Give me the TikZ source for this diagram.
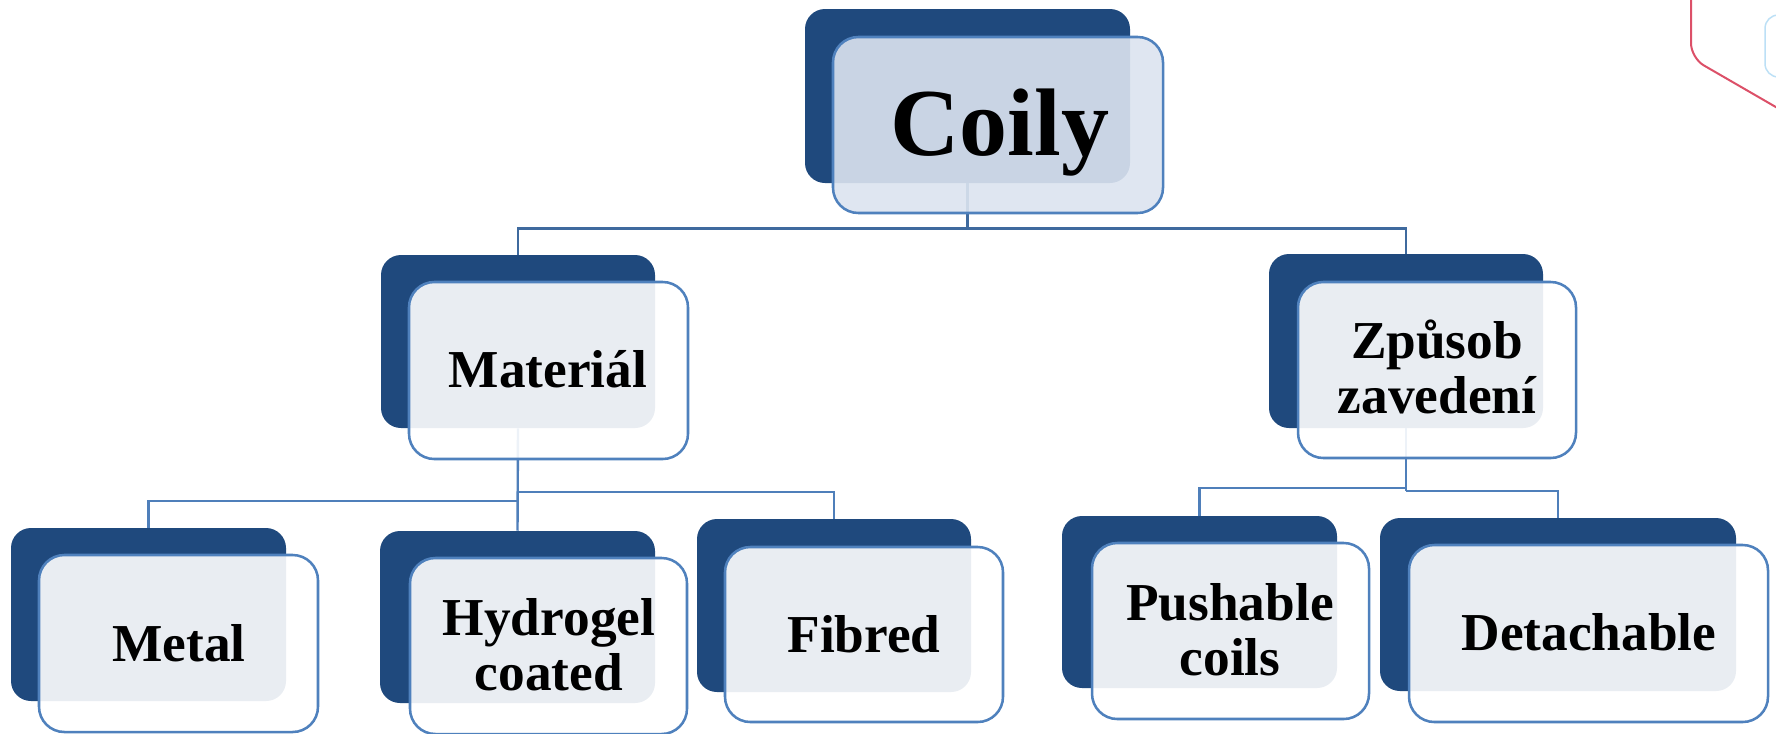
\documentclass[tikz,border=0pt]{standalone}
\usepackage{fontspec}
\setmainfont{Liberation Serif}
\usetikzlibrary{fit}
\definecolor{darkb}{HTML}{1F497D}
\definecolor{edgeb}{HTML}{4F81BD}
\definecolor{lineup}{HTML}{3F6A9E}
\definecolor{linelow}{HTML}{4F7FBA}
\definecolor{topfill}{HTML}{DCE4F0}
\definecolor{redl}{HTML}{DC5068}
\definecolor{lblue}{HTML}{BCE0F6}
\begin{document}
\begin{tikzpicture}[x=0.75pt,y=-0.75pt,
  darkbox/.style={fill=darkb, rounded corners=15pt, inner sep=0pt},
  frontbox/.style={draw=edgeb, line width=1.9pt, fill=white, fill opacity=0.9, rounded corners=19pt, inner sep=0pt},
  topbox/.style={frontbox, fill=topfill},
  txt/.style={inner sep=0pt, anchor=base, font=\bfseries\fontsize{40}{41.5}\selectfont},
  bigtxt/.style={inner sep=0pt, anchor=base, font=\bfseries\fontsize{72}{74}\selectfont},
  connup/.style={draw=lineup, line width=2pt},
  connlow/.style={draw=linelow, line width=1.8pt},
]
\useasboundingbox (0,0) rectangle (1776,733);
\fill[white] (0,0) rectangle (1776,733);

% decorative shapes at the top right
\draw[redl, line width=1.5pt, rounded corners=11pt] (1691,-10) -- (1691,58) -- (1800,121);
\draw[lblue, line width=1.1pt, rounded corners=10pt] (1800,15) -- (1765,15) -- (1765,77) -- (1800,77);

% dark back boxes
\node[darkbox, fit={(805,9) (1130,183)}] (coilyD) {};
\node[darkbox, fit={(381,255) (655,428)}] (matD) {};
\node[darkbox, fit={(1269,254) (1543,428)}] (zpD) {};
\node[darkbox, fit={(11,528) (286,701)}] (metD) {};
\node[darkbox, fit={(380,531) (655,703)}] (hydD) {};
\node[darkbox, fit={(697,519) (971,692)}] (fibD) {};
\node[darkbox, fit={(1062,516) (1337,688)}] (pushD) {};
\node[darkbox, fit={(1380,518) (1736,691)}] (detD) {};

% connectors
\draw[connup] (coilyD.south) -- ++(0,45) -| (matD.north);
\draw[connup] (coilyD.south) ++(0,45) -| (zpD.north);
\draw[connlow] (matD.south) -- (hydD.north);
\draw[connlow] (matD.south) ++(0,73) -| (metD.north);
\draw[connlow] (matD.south) ++(0,64) -| (fibD.north);
\draw[connlow] (zpD.south) -- ++(0,63);
\draw[connlow] (zpD.south) ++(0,60) -| (pushD.north);
\draw[connlow] (zpD.south) ++(0,63) -| (detD.north);

% front boxes
\node[topbox, fit={(833,37) (1163,213)}] (coily) {};
\node[frontbox, fit={(409,282) (688,459)}] (mat) {};
\node[frontbox, fit={(1298,282) (1576,458)}] (zp) {};
\node[frontbox, fit={(39,555) (318,732)}] (met) {};
\node[frontbox, fit={(410,558) (687,734)}] (hyd) {};
\node[frontbox, fit={(725,547) (1003,722)}] (fib) {};
\node[frontbox, fit={(1092,543) (1369,719)}] (push) {};
\node[frontbox, fit={(1409,545) (1768,722)}] (det) {};

% texts
\node[bigtxt] (coilyT) at (1000,155) {Coily};
\node[txt] (matT) at (548,387) {Materiál};
\node[txt] (zpT1) at (1437,358) {Způsob};
\node[txt] (zpT2) at (1437,413) {zavedení};
\node[txt] (metT) at (179,661) {Metal};
\node[txt] (hydT1) at (549,635) {Hydrogel};
\node[txt] (hydT2) at (549,690) {coated};
\node[txt] (fibT) at (864,652) {Fibred};
\node[txt] (pushT1) at (1230,620) {Pushable};
\node[txt] (pushT2) at (1230,675) {coils};
\node[txt] (detT) at (1589,650) {Detachable};
\end{tikzpicture}
\end{document}
